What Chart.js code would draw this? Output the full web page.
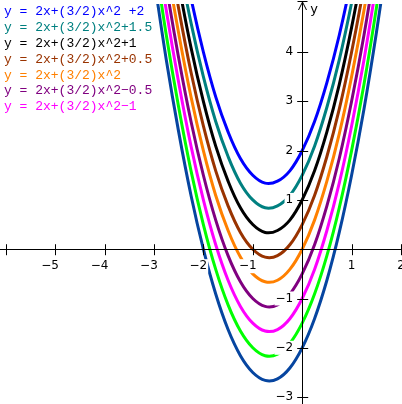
<!DOCTYPE html>
<html>
<head>
<meta charset="utf-8">
<script src="https://cdn.jsdelivr.net/npm/chart.js@4.4.0/dist/chart.umd.min.js"></script>
<style>
  html, body { margin: 0; padding: 0; background: #fff; }
  #wrap { width: 402px; height: 404px; position: relative; }
</style>
</head>
<body>
<div id="wrap"><canvas id="plot"></canvas></div>
<script>
// sample positions along x, shared by all curves
const xVals = [-3, -2.75, -2.5, -2.25, -2, -1.75, -1.5, -1.25, -1, -0.75, -0.5, -0.25, 0, 0.25, 0.5, 0.75, 1, 1.25, 1.5, 1.75];

// y values
const yPlus2   = [9.5, 7.84, 6.38, 5.09, 4, 3.09, 2.38, 1.84, 1.5, 1.34, 1.38, 1.59, 2, 2.59, 3.38, 4.34, 5.5, 6.84, 8.38, 10.09];
const yPlus15  = [9, 7.34, 5.88, 4.59, 3.5, 2.59, 1.88, 1.34, 1, 0.84, 0.88, 1.09, 1.5, 2.09, 2.88, 3.84, 5, 6.34, 7.88, 9.59];
const yPlus1   = [8.5, 6.84, 5.38, 4.09, 3, 2.09, 1.38, 0.84, 0.5, 0.34, 0.38, 0.59, 1, 1.59, 2.38, 3.34, 4.5, 5.84, 7.38, 9.09];
const yPlus05  = [8, 6.34, 4.88, 3.59, 2.5, 1.59, 0.88, 0.34, 0, -0.16, -0.13, 0.09, 0.5, 1.09, 1.88, 2.84, 4, 5.34, 6.88, 8.59];
const yZero    = [7.5, 5.84, 4.38, 3.09, 2, 1.09, 0.38, -0.16, -0.5, -0.66, -0.63, -0.41, 0, 0.59, 1.38, 2.34, 3.5, 4.84, 6.38, 8.09];
const yMinus05 = [7, 5.34, 3.88, 2.59, 1.5, 0.59, -0.13, -0.66, -1, -1.16, -1.13, -0.91, -0.5, 0.09, 0.88, 1.84, 3, 4.34, 5.88, 7.59];
const yMinus1  = [6.5, 4.84, 3.38, 2.09, 1, 0.09, -0.63, -1.16, -1.5, -1.66, -1.63, -1.41, -1, -0.41, 0.38, 1.34, 2.5, 3.84, 5.38, 7.09];
const yMinus15 = [6, 4.34, 2.88, 1.59, 0.5, -0.41, -1.13, -1.66, -2, -2.16, -2.13, -1.91, -1.5, -0.91, -0.13, 0.84, 2, 3.34, 4.88, 6.59];
const yMinus2  = [5.5, 3.84, 2.38, 1.09, 0, -0.91, -1.63, -2.16, -2.5, -2.66, -2.63, -2.41, -2, -1.41, -0.63, 0.34, 1.5, 2.84, 4.38, 6.09];

const allSeries = [yPlus2, yPlus15, yPlus1, yPlus05, yZero, yMinus05, yMinus1, yMinus15, yMinus2];
const seriesColors = ['#0000ff', '#008080', '#000000', '#993300', '#ff8000', '#800080', '#ff00ff', '#00ff00', '#0645a0'];

// legend only lists the first seven curves
const legendLabels = [
  'y = 2x+(3/2)x^2 +2',
  'y = 2x+(3/2)x^2+1.5',
  'y = 2x+(3/2)x^2+1',
  'y = 2x+(3/2)x^2+0.5',
  'y = 2x+(3/2)x^2',
  'y = 2x+(3/2)x^2\u22120.5',
  'y = 2x+(3/2)x^2\u22121'
];

const xTicks = [-6, -5, -4, -3, -2, -1, 1, 2];
const xTickLabels = [-5, -4, -3, -2, -1, 1, 2];
const yTicks = [-3, -2, -1, 1, 2, 3, 4];

const datasets = allSeries.map((ys, i) => ({
  data: ys.map((y, j) => ({ x: xVals[j], y: y })),
  borderColor: seriesColors[i],
  borderWidth: 3,
  pointRadius: 0,
  showLine: true,
  tension: 0.4,
  fill: false,
  clip: { left: 0, right: 0, top: -4, bottom: 0 }
}));

const tickLen = 5;
const labelFont = '12px "DejaVu Sans"';

function drawTickLabel(ctx, v, px, py, align) {
  const digits = String(Math.abs(v));
  const minus = v < 0 ? '\u2212' : '';
  ctx.font = labelFont;
  const dw = ctx.measureText(digits).width;
  const mw = minus ? ctx.measureText(minus).width : 0;
  let left;
  if (align === 'center') left = px - dw / 2 - mw;   // digit centred on the tick
  else left = px - dw - mw;                            // right aligned
  // white knockout behind the label
  ctx.fillStyle = '#fff';
  ctx.fillRect(left - 1, py - 7, dw + mw + 2, 14);
  ctx.fillStyle = '#000';
  ctx.textAlign = 'left';
  ctx.textBaseline = 'middle';
  ctx.fillText(minus + digits, left, py);
}

const axesPlugin = {
  id: 'axesPlugin',
  afterDatasetsDraw(chart) {
    const ctx = chart.ctx;
    const xs = chart.scales.x, ys = chart.scales.y;
    const x0 = xs.getPixelForValue(0);
    const y0 = ys.getPixelForValue(0);
    ctx.save();

    // tick labels with white boxes over the curves
    xTickLabels.forEach(v => drawTickLabel(ctx, v, xs.getPixelForValue(v), y0 + 17, 'center'));
    yTicks.forEach(v => drawTickLabel(ctx, v, x0 - 9, ys.getPixelForValue(v), 'right'));

    // axes
    ctx.strokeStyle = '#000';
    ctx.lineWidth = 1;
    ctx.beginPath();
    ctx.moveTo(0, Math.round(y0) + 0.5);
    ctx.lineTo(chart.width, Math.round(y0) + 0.5);
    const ax = Math.round(x0) + 0.5;
    ctx.moveTo(ax, chart.height);
    ctx.lineTo(ax, 2);
    // arrow head and bar at top of y axis
    ctx.moveTo(ax - 5, 1.5);
    ctx.lineTo(ax + 5, 1.5);
    ctx.moveTo(ax, 2);
    ctx.lineTo(ax - 4, 10);
    ctx.moveTo(ax, 2);
    ctx.lineTo(ax + 4, 10);
    xTicks.forEach(v => {
      const px = Math.round(xs.getPixelForValue(v)) + 0.5;
      ctx.moveTo(px, y0 - tickLen);
      ctx.lineTo(px, y0 + tickLen + 1);
    });
    yTicks.forEach(v => {
      const py = Math.round(ys.getPixelForValue(v)) + 0.5;
      ctx.moveTo(x0 - tickLen, py);
      ctx.lineTo(x0 + tickLen + 1, py);
    });
    ctx.stroke();

    ctx.fillStyle = '#000';
    ctx.font = '13px "DejaVu Sans"';
    ctx.textAlign = 'center';
    ctx.textBaseline = 'middle';
    ctx.fillText('y', x0 + 12, 10);

    // legend text
    ctx.font = '13px "Liberation Mono"';
    ctx.textAlign = 'left';
    legendLabels.forEach((t, i) => {
      ctx.fillStyle = seriesColors[i];
      ctx.fillText(t, 4, 12 + i * 15.8);
    });
    ctx.restore();
  }
};

new Chart(document.getElementById('plot'), {
  type: 'scatter',
  data: { datasets: datasets },
  options: {
    responsive: true,
    maintainAspectRatio: false,
    animation: false,
    layout: { padding: 0 },
    plugins: { legend: { display: false }, tooltip: { enabled: false } },
    scales: {
      x: { type: 'linear', min: -6.116, max: 2.02, display: false },
      y: { type: 'linear', min: -3.14, max: 5.055, display: false }
    }
  },
  plugins: [axesPlugin]
});
</script>
</body>
</html>
